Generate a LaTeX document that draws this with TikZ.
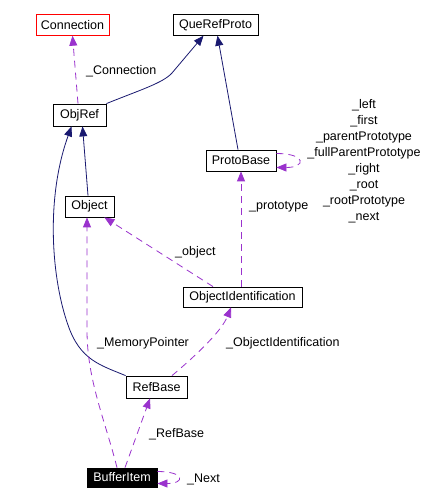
\documentclass[tikz,border=0pt]{standalone}
\usepackage{fontspec}
\setmainfont{Liberation Sans}
\usetikzlibrary{arrows.meta,calc}
\definecolor{navy}{HTML}{191970}
\definecolor{purp}{HTML}{9A32CD}
\newcommand\dfont{\fontsize{12.5}{16}\selectfont}
\tikzset{
  cls/.style={draw=black, line width=0.8pt, fill=white, inner sep=0pt, font=\dfont, anchor=center},
  lbl/.style={inner sep=0pt, font=\dfont},
  inh/.style={draw=navy, line width=0.8pt, -{Triangle[length=10pt,width=8pt]}, navy},
  use/.style={draw=purp, line width=0.8pt, dash pattern=on 7pt off 5pt, -{Triangle[length=10pt,width=8pt]}, purp},
}
\begin{document}
\begin{tikzpicture}[x=1pt,y=-1pt]
\useasboundingbox (0,0) rectangle (440,502);
\fill[white] (0,0) rectangle (440,502);

% classes
\node[cls, draw=red, minimum width=73pt, minimum height=21pt] (Connection) at (72.5,24.8) {Connection};
\node[cls, minimum width=85pt, minimum height=21pt] (QueRefProto) at (215.5,24.8) {QueRefProto};
\node[cls, minimum width=53pt, minimum height=22pt] (ObjRef) at (79.5,115) {ObjRef};
\node[cls, minimum width=70pt, minimum height=21pt] (ProtoBase) at (241,160.5) {ProtoBase};
\node[cls, minimum width=49pt, minimum height=21pt] (Object) at (89.5,206.5) {Object};
\node[cls, minimum width=119pt, minimum height=20pt] (ObjectIdentification) at (242.5,297) {ObjectIdentification};
\node[cls, minimum width=61pt, minimum height=22pt] (RefBase) at (156.5,387) {RefBase};
\node[cls, fill=black, text=white, minimum width=70pt, minimum height=19pt] (BufferItem) at (122,477.5) {BufferItem};

% inheritance
\draw[inh] (ObjRef.north east) .. controls (140,90) and (163,83) .. (172,73) -- ($(QueRefProto.south)+(-12,0)$);
\draw[inh] ($(ProtoBase.north)+(-3,0)$) -- ($(QueRefProto.south)+(2,0)$);
\draw[inh] ($(Object.north)+(-1.5,0)$) -- ($(ObjRef.south)+(3,0)$);
\draw[inh] (RefBase.north west) .. controls (100,365) and (80,360) .. (68,325)
  .. controls (52,280) and (45,200) .. ($(ObjRef.south)+(-8,0)$);

% usage
\draw[use] ($(ObjRef.north)+(-1.5,0)$) -- ($(Connection.south)+(0,0)$);
\draw[use] ($(ProtoBase.east)+(0,-7)$) .. controls +(30,0) and +(30,0) .. ($(ProtoBase.east)+(0,7)$);
\draw[use] ($(ObjectIdentification.north)+(-1.5,0)$) -- (ProtoBase.south);
\draw[use] ($(ObjectIdentification.north)+(-29.5,0)$) -- ($(Object.south east)+(-10,0)$);
\draw[use] ($(RefBase.north)+(15.5,0)$) .. controls (200,352) and (222,330) .. ($(ObjectIdentification.south)+(-11.5,0)$);
\draw[use] ($(BufferItem.north)+(-5,0)$) .. controls (105,420) and (87,380) .. (87,330) -- ($(Object.south)+(-2.5,0)$);
\draw[use] ($(BufferItem.north)+(3,0)$) -- ($(RefBase.south)+(-6.5,0)$);
\draw[use] ($(BufferItem.east)+(0,-6)$) .. controls +(28,0) and +(28,0) .. ($(BufferItem.east)+(0,6)$);

% labels
\node[lbl, anchor=west] (lConnection) at (86,71) {\_Connection};
\node[lbl, align=center] (lProto) at (364,161.5) {\_left\\\_first\\\_parentPrototype\\\_fullParentPrototype\\\_right\\\_root\\\_rootPrototype\\\_next};
\node[lbl, anchor=west] (lprototype) at (249,207) {\_prototype};
\node[lbl, anchor=west] (lobject) at (175,252) {\_object};
\node[lbl, anchor=west] (lMem) at (97,343) {\_MemoryPointer};
\node[lbl, anchor=west] (lOI) at (226,343) {\_ObjectIdentification};
\node[lbl, anchor=west] (lRefBase) at (149,434) {\_RefBase};
\node[lbl, anchor=west] (lNext) at (187,479) {\_Next};
\end{tikzpicture}
\end{document}
